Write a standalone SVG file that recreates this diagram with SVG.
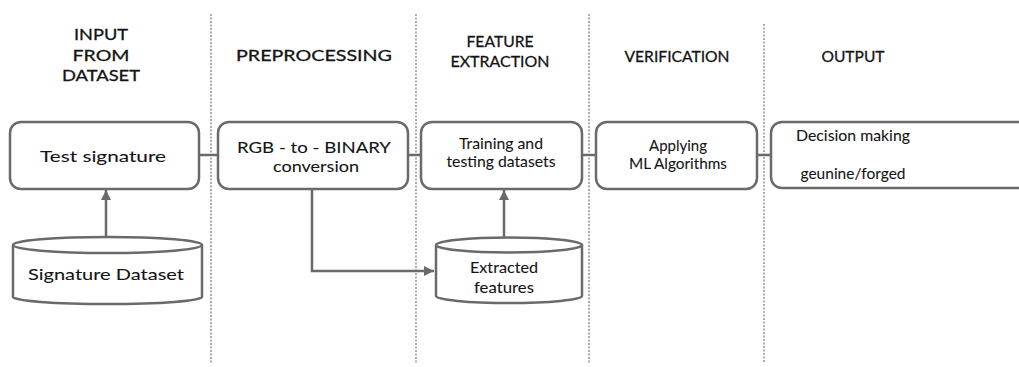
<svg xmlns="http://www.w3.org/2000/svg" width="1019" height="367" viewBox="0 0 1019 367">
  <style>
    .lane { stroke: #9a9a9a; stroke-width: 1.6; stroke-dasharray: 2 1.5; fill: none; }
    .box { fill: #ffffff; stroke: #6a6a6a; stroke-width: 2.5; }
    .wire { stroke: #6a6a6a; stroke-width: 2.5; fill: none; }
    text { font-family: Lato, "Open Sans", "DejaVu Sans", sans-serif; fill: #141414; text-anchor: middle; }
    .head { font-size: 16px; font-weight: 400; stroke: #141414; stroke-width: 0.3; }
    .label { font-size: 16px; stroke: #141414; stroke-width: 0.08; }
    .small { font-size: 15px; }
  </style>
  <defs>
    <marker id="arrow" viewBox="0 0 10 10" refX="10" refY="5" markerWidth="4" markerHeight="4" orient="auto" markerUnits="strokeWidth">
      <path d="M0,0 L10,5 L0,10 Z" fill="#6a6a6a"/>
    </marker>
  </defs>
  <rect width="1019" height="367" fill="#ffffff"/>

  <!-- swimlane separators -->
  <g id="lanes">
    <line class="lane" x1="211" y1="14" x2="211" y2="363"/>
    <line class="lane" x1="416" y1="14" x2="416" y2="363"/>
    <line class="lane" x1="589" y1="14" x2="589" y2="363"/>
    <line class="lane" x1="764" y1="24" x2="764" y2="363"/>
  </g>

  <!-- lane titles -->
  <g id="titles">
    <text class="head" x="101" y="40" textLength="54" lengthAdjust="spacingAndGlyphs">INPUT</text>
    <text class="head" x="101" y="61" textLength="57" lengthAdjust="spacingAndGlyphs">FROM</text>
    <text class="head" x="101" y="81" textLength="78" lengthAdjust="spacingAndGlyphs">DATASET</text>
    <text class="head" x="314" y="61" textLength="156" lengthAdjust="spacingAndGlyphs">PREPROCESSING</text>
    <text class="head" x="500" y="47" textLength="67" lengthAdjust="spacingAndGlyphs">FEATURE</text>
    <text class="head" x="500" y="67" textLength="99" lengthAdjust="spacingAndGlyphs">EXTRACTION</text>
    <text class="head" x="677" y="62" textLength="105" lengthAdjust="spacingAndGlyphs">VERIFICATION</text>
    <text class="head" x="853" y="62" textLength="63" lengthAdjust="spacingAndGlyphs">OUTPUT</text>
  </g>

  <!-- connectors -->
  <g id="connectors">
    <line class="wire" x1="199" y1="155" x2="218" y2="155"/>
    <line class="wire" x1="408" y1="155" x2="421" y2="155"/>
    <line class="wire" x1="582" y1="155" x2="596" y2="155"/>
    <line class="wire" x1="757" y1="155" x2="771" y2="155"/>
    <line class="wire" x1="106" y1="237" x2="106" y2="190" marker-end="url(#arrow)"/>
    <line class="wire" x1="504" y1="238" x2="504" y2="190" marker-end="url(#arrow)"/>
    <path class="wire" d="M312,189 V271 H434" marker-end="url(#arrow)"/>
  </g>

  <g id="test-signature">
    <rect class="box" x="10" y="122" width="189" height="67" rx="11"/>
    <text class="label" x="103" y="162" textLength="126" lengthAdjust="spacingAndGlyphs">Test signature</text>
  </g>

  <g id="rgb-binary">
    <rect class="box" x="218" y="122" width="190" height="67" rx="11"/>
    <text class="label" x="314" y="153" textLength="154" lengthAdjust="spacingAndGlyphs">RGB - to - BINARY</text>
    <text class="label" x="316" y="172" textLength="86" lengthAdjust="spacingAndGlyphs">conversion</text>
  </g>

  <g id="training-testing">
    <rect class="box" x="421" y="122" width="161" height="67" rx="11"/>
    <text class="label small" x="501" y="149" textLength="84" lengthAdjust="spacingAndGlyphs">Training and</text>
    <text class="label small" x="501" y="167" textLength="109" lengthAdjust="spacingAndGlyphs">testing datasets</text>
  </g>

  <g id="ml-algorithms">
    <rect class="box" x="596" y="122" width="161" height="67" rx="11"/>
    <text class="label small" x="678" y="151" textLength="58" lengthAdjust="spacingAndGlyphs">Applying</text>
    <text class="label small" x="678" y="169" textLength="98" lengthAdjust="spacingAndGlyphs">ML Algorithms</text>
  </g>

  <g id="decision">
    <rect class="box" x="771" y="122" width="260" height="66" rx="11"/>
    <text class="label" x="853" y="141" textLength="114" lengthAdjust="spacingAndGlyphs">Decision making</text>
    <text class="label" x="853" y="179" textLength="105" lengthAdjust="spacingAndGlyphs">geunine/forged</text>
  </g>

  <g id="signature-dataset">
    <path class="box" d="M13,245 A94.5,8 0 0 1 202,245 V297 A94.5,7 0 0 1 13,297 Z"/>
    <path class="box" fill="none" d="M13,245 A94.5,8 0 0 0 202,245"/>
    <text class="label" x="106" y="280" textLength="156" lengthAdjust="spacingAndGlyphs">Signature Dataset</text>
  </g>

  <g id="extracted-features">
    <path class="box" d="M436,245 A73,7.5 0 0 1 582,245 V296 A73,7 0 0 1 436,296 Z"/>
    <path class="box" fill="none" d="M436,245 A73,7.5 0 0 0 582,245"/>
    <text class="label small" x="504" y="273" textLength="68" lengthAdjust="spacingAndGlyphs">Extracted</text>
    <text class="label small" x="504" y="293" textLength="60" lengthAdjust="spacingAndGlyphs">features</text>
  </g>
</svg>
